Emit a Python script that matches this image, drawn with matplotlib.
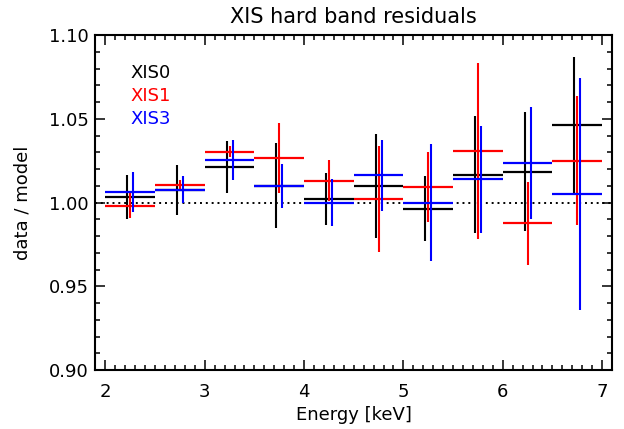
import matplotlib
matplotlib.use("Agg")
import matplotlib.pyplot as plt
from matplotlib.ticker import MultipleLocator, FormatStrFormatter

# Energy bins (keV)
bin_lo = [2.0, 2.5, 3.0, 3.5, 4.0, 4.5, 5.0, 5.5, 6.0, 6.5]
bin_hi = [2.5, 3.0, 3.5, 4.0, 4.5, 5.0, 5.5, 6.0, 6.5, 7.0]

# data / model and 1-sigma errors
xis0_val = [1.0033, 1.0075, 1.0210, 1.0101, 1.0022, 1.0101, 0.9962, 1.0167, 1.0183, 1.0460]
xis0_err = [0.0134, 0.0150, 0.0155, 0.0254, 0.0155, 0.0310, 0.0194, 0.0350, 0.0356, 0.0410]
xis1_val = [0.9981, 1.0104, 1.0304, 1.0266, 1.0129, 1.0020, 1.0093, 1.0306, 0.9875, 1.0250]
xis1_err = [0.0075, 0.0030, 0.0034, 0.0207, 0.0122, 0.0316, 0.0208, 0.0525, 0.0247, 0.0384]
xis3_val = [1.0063, 1.0077, 1.0254, 1.0099, 1.0000, 1.0163, 1.0000, 1.0139, 1.0236, 1.0051]
xis3_err = [0.0118, 0.0081, 0.0117, 0.0131, 0.0139, 0.0212, 0.0347, 0.0320, 0.0337, 0.0695]

series = [("XIS0", xis0_val, xis0_err, "black", -0.03),
          ("XIS1", xis1_val, xis1_err, "red", 0.0),
          ("XIS3", xis3_val, xis3_err, "blue", 0.03)]

plt.rcParams['font.family'] = ['DejaVu Sans']

fig = plt.figure(figsize=(6.24, 4.29), dpi=100)
ax = fig.add_axes([0.1530, 0.1375, 0.8278, 0.7809])

ax.axhline(1.0, color="black", lw=1.4, linestyle=(0, (1, 2)), zorder=1)

for nombre, val, err, col, off in series:
    centros = [(a + b) / 2 + off for a, b in zip(bin_lo, bin_hi)]
    ax.hlines(val, bin_lo, bin_hi, colors=col, lw=1.6, zorder=2)
    ax.vlines(centros, [v - e for v, e in zip(val, err)],
              [v + e for v, e in zip(val, err)], colors=col, lw=1.5, zorder=2)

# Nombres de las series
for i, (nombre, val, err, col, off) in enumerate(series):
    ax.text(0.068, 0.887 - 0.069 * i, nombre, color=col, fontsize=13,
            transform=ax.transAxes, va="center", ha="left")

ax.set_xlim(1.9, 7.1)
ax.set_ylim(0.90, 1.10)
ax.xaxis.set_major_locator(MultipleLocator(1))
ax.xaxis.set_minor_locator(MultipleLocator(0.1))
ax.yaxis.set_major_locator(MultipleLocator(0.05))
ax.yaxis.set_minor_locator(MultipleLocator(0.01))
ax.yaxis.set_major_formatter(FormatStrFormatter("%.2f"))

ax.tick_params(which="both", direction="in", top=True, right=True, width=1.1)
ax.tick_params(which="major", length=7)
ax.tick_params(which="minor", length=3.5)
ax.tick_params(axis="x", which="major", pad=9, labelsize=13)
ax.tick_params(axis="y", which="major", pad=5, labelsize=13)
for s in ax.spines.values():
    s.set_linewidth(1.5)

ax.set_xlabel("Energy [keV]", fontsize=13, labelpad=4)
ax.set_ylabel("data / model", fontsize=13, labelpad=12)
ax.set_title("XIS hard band residuals", fontsize=15, pad=9)

fig.savefig("out.png", dpi=100)
